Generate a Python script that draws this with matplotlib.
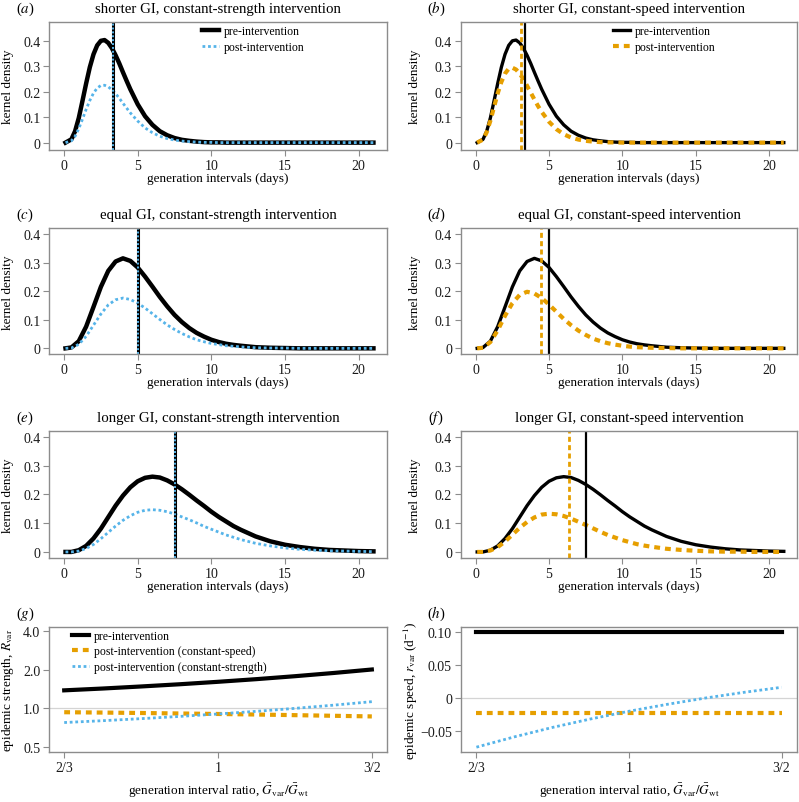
import matplotlib
matplotlib.use('Agg')
import matplotlib.pyplot as plt

# ---------------- data ----------------
# generation intervals (days), finer grid for the short-GI panels
gi_days_short = [0.1, 0.5, 0.75, 1, 1.25, 1.5, 1.75, 2, 2.25, 2.5, 2.75, 3, 3.25, 3.5, 3.75, 4, 4.25, 4.5,
                 5, 5.5, 6, 6.5, 7, 7.5, 8, 8.5, 9, 9.5, 10, 10.5, 11, 11.5, 12,
                 13, 14, 15, 16, 17, 18, 19, 20, 21]
gi_days = [0.1, 0.5, 1, 1.5, 2, 2.5, 3, 3.5, 4, 4.5, 5, 5.5, 6, 6.5, 7, 7.5, 8, 8.5, 9, 9.5, 10,
           10.5, 11, 11.5, 12, 13, 14, 15, 16, 17, 18, 19, 20, 21]

# shorter GI (a, b)
short_pre = [0, 0.013, 0.045, 0.097, 0.164, 0.233, 0.297, 0.348, 0.383, 0.401, 0.404, 0.393, 0.372, 0.344,
             0.312, 0.277, 0.243, 0.210,
             0.151, 0.104, 0.070, 0.045, 0.029, 0.018, 0.011, 0.007, 0.004, 0.002, 0.001, 0.001, 0, 0, 0,
             0, 0, 0, 0, 0, 0, 0, 0, 0]
short_strength = [0, 0.007, 0.025, 0.055, 0.092, 0.131, 0.166, 0.195, 0.215, 0.225, 0.226, 0.220, 0.208, 0.193,
                  0.175, 0.155, 0.136, 0.117,
                  0.085, 0.058, 0.039, 0.025, 0.016, 0.010, 0.006, 0.004, 0.002, 0.001, 0.001, 0, 0, 0, 0,
                  0, 0, 0, 0, 0, 0, 0, 0, 0]
short_speed = [0, 0.012, 0.041, 0.086, 0.140, 0.194, 0.239, 0.272, 0.291, 0.295, 0.288, 0.272, 0.250, 0.224,
               0.197, 0.170, 0.144, 0.121,
               0.082, 0.053, 0.033, 0.020, 0.012, 0.007, 0.004, 0.002, 0.001, 0.001, 0, 0, 0, 0, 0,
               0, 0, 0, 0, 0, 0, 0, 0, 0]

# equal GI (c, d)
equal_pre = [0, 0.003, 0.025, 0.076, 0.145, 0.215, 0.271, 0.304, 0.315, 0.306, 0.283, 0.251, 0.216, 0.180,
             0.147, 0.117, 0.092, 0.071, 0.054, 0.041, 0.030, 0.022, 0.016, 0.012, 0.009,
             0.004, 0.002, 0.001, 0, 0, 0, 0, 0, 0]
equal_strength = [0, 0.001, 0.014, 0.042, 0.081, 0.120, 0.152, 0.170, 0.176, 0.171, 0.158, 0.141, 0.121, 0.101,
                  0.082, 0.066, 0.052, 0.040, 0.030, 0.023, 0.017, 0.013, 0.009, 0.007, 0.005,
                  0.002, 0.001, 0.001, 0, 0, 0, 0, 0, 0]
equal_speed = [0, 0.002, 0.022, 0.063, 0.114, 0.158, 0.187, 0.198, 0.192, 0.176, 0.153, 0.128, 0.103, 0.081,
               0.062, 0.047, 0.034, 0.025, 0.018, 0.013, 0.009, 0.006, 0.004, 0.003, 0.002,
               0.001, 0, 0, 0, 0, 0, 0, 0, 0]

# longer GI (e, f)
long_pre = [0, 0, 0.006, 0.021, 0.047, 0.081, 0.121, 0.161, 0.196, 0.225, 0.246, 0.258, 0.262, 0.259,
            0.249, 0.235, 0.218, 0.199, 0.179, 0.160, 0.140, 0.122, 0.106, 0.090, 0.077,
            0.054, 0.037, 0.025, 0.017, 0.011, 0.007, 0.005, 0.003, 0.002]
long_strength = [0, 0, 0.003, 0.012, 0.026, 0.046, 0.068, 0.090, 0.110, 0.126, 0.138, 0.145, 0.147, 0.145,
                 0.140, 0.132, 0.122, 0.112, 0.101, 0.089, 0.079, 0.069, 0.059, 0.051, 0.043,
                 0.030, 0.021, 0.014, 0.009, 0.006, 0.004, 0.003, 0.002, 0.001]
long_speed = [0, 0, 0.005, 0.017, 0.036, 0.060, 0.084, 0.104, 0.120, 0.130, 0.133, 0.131, 0.125, 0.116,
              0.105, 0.094, 0.082, 0.070, 0.059, 0.050, 0.041, 0.034, 0.027, 0.022, 0.018,
              0.011, 0.007, 0.004, 0.002, 0.001, 0.001, 0, 0, 0]

# mean generation intervals (vertical lines): pre / post constant-speed
mean_pre = [3.333, 5.0, 7.5]
mean_speed = [3.081, 4.452, 6.332]

# bottom row: generation interval ratio
gi_ratio = [0.6667, 0.7378, 0.8165, 0.9036, 1.0, 1.1067, 1.2247, 1.3554, 1.5]
R_pre = [1.381, 1.427, 1.481, 1.541, 1.611, 1.690, 1.782, 1.888, 2.011]
R_speed = [0.931, 0.925, 0.918, 0.910, 0.902, 0.893, 0.883, 0.873, 0.863]
R_strength = [0.773, 0.799, 0.829, 0.863, 0.902, 0.946, 0.998, 1.057, 1.126]
r_pre = [0.1, 0.1, 0.1, 0.1, 0.1, 0.1, 0.1, 0.1, 0.1]
r_speed = [-0.023, -0.023, -0.023, -0.023, -0.023, -0.023, -0.023, -0.023, -0.023]
r_strength = [-0.0752, -0.0594, -0.0450, -0.0321, -0.0204, -0.0099, -0.0003, 0.0083, 0.0161]

kernel_ticks = [0, 0.1, 0.2, 0.3, 0.4]
kernel_ticklabels = ['0', '0.1', '0.2', '0.3', '0.4']
day_ticks = [0, 5, 10, 15, 20]
ratio_ticks = [2 / 3, 1, 3 / 2]
ratio_ticklabels = ['2/3', '1', '3/2']
R_ticks = [0.5, 1, 2, 4]
R_ticklabels = ['0.5', '1.0', '2.0', '4.0']
r_ticks = [-0.05, 0, 0.05, 0.10]
r_ticklabels = ['\u22120.05', '0', '0.05', '0.10']

titles = ['shorter GI, constant-strength intervention', 'shorter GI, constant-speed intervention',
          'equal GI, constant-strength intervention', 'equal GI, constant-speed intervention',
          'longer GI, constant-strength intervention', 'longer GI, constant-speed intervention']
panel_tags = ['($a$)', '($b$)', '($c$)', '($d$)', '($e$)', '($f$)', '($g$)', '($h$)']

# ---------------- style ----------------
plt.rcParams['font.family'] = 'serif'
plt.rcParams['font.serif'] = ['Liberation Serif', 'DejaVu Serif']
plt.rcParams['mathtext.fontset'] = 'stix'
plt.rcParams['axes.unicode_minus'] = True

BLUE = '#56B4E9'
ORANGE = '#E69F00'
GREY = '#8c8c8c'
DOTS = (0, (1, 1))
DASH = (0, (1.4, 1.2))

fig = plt.figure(figsize=(7.99, 8.03), dpi=100)

col_left = [0.0617, 0.577]
col_w = [0.4223, 0.4205]
rows = [(0.8123, 0.1587), (0.5575, 0.1569), (0.3039, 0.1578), (0.0619, 0.1564)]


def style_axes(ax, col):
    for sp in ax.spines.values():
        sp.set_edgecolor(GREY)
        sp.set_linewidth(1.0)
    ax.tick_params(colors=GREY, labelcolor='#1a1a1a', length=4, width=0.8, labelsize=10, pad=2.5)
    ax.minorticks_off()
    ax.yaxis.set_label_coords(-0.106 if col == 0 else -0.119, 0.5)


kernel_sets = [(gi_days_short, short_pre, short_strength, short_speed),
               (gi_days, equal_pre, equal_strength, equal_speed),
               (gi_days, long_pre, long_strength, long_speed)]

####################################  kernel panels (a)-(f)  ####################################
for i in range(3):
    days, pre, strength, speed = kernel_sets[i]
    for j in range(2):
        ax = fig.add_axes([col_left[j], rows[i][0], col_w[j], rows[i][1]])
        if j == 0:
            ax.plot(days, pre, color='k', lw=3.2, label='pre-intervention')
            ax.plot(days, strength, color=BLUE, lw=2.0, ls=DOTS, label='post-intervention')
            ax.axvline(mean_pre[i], color='k', lw=2.2)
            ax.axvline(mean_pre[i], color=BLUE, lw=1.4, ls=DOTS)
        else:
            ax.plot(days, pre, color='k', lw=2.4, label='pre-intervention')
            ax.plot(days, speed, color=ORANGE, lw=3.0, ls=DASH, label='post-intervention')
            ax.axvline(mean_speed[i], color=ORANGE, lw=2.0, ls=(0, (1.8, 1.2)))
            ax.axvline(mean_pre[i], color='k', lw=1.6)
        ax.set_xlim(-1.0, 21.9)
        if i == 0:
            ax.set_ylim(-0.028, 0.474)
        else:
            ax.set_ylim(-0.021, 0.42)
        ax.set_xticks(day_ticks)
        ax.set_yticks(kernel_ticks)
        ax.set_yticklabels(kernel_ticklabels)
        style_axes(ax, j)
        ax.set_ylabel('kernel density', fontsize=9.5)
        ax.set_xlabel('generation intervals (days)', fontsize=9.5)
        ax.xaxis.set_label_coords(0.5, -0.175)
        ax.xaxis.label.set_va('top')
        ax.set_title(titles[2 * i + j], fontsize=10.7, pad=7.5)
        ax.text(-0.072 if j == 0 else -0.074, 1.081, panel_tags[2 * i + j], transform=ax.transAxes,
                ha='center', va='baseline', fontsize=10.7)
        if i == 0:
            ax.legend(loc='upper left', bbox_to_anchor=(0.4526, 0.975), frameon=False, fontsize=8.5,
                      handlelength=1.4, handletextpad=0.45, labelspacing=0.3, borderpad=0, borderaxespad=0)

####################################  (g) epidemic strength  ####################################
ax = fig.add_axes([col_left[0], rows[3][0], col_w[0], rows[3][1]])
ax.axhline(1, color='#d4d4d4', lw=0.9)
ax.plot(gi_ratio, R_pre, color='k', lw=3.0, label='pre-intervention')
ax.plot(gi_ratio, R_speed, color=ORANGE, lw=3.0, ls=DASH, label='post-intervention (constant-speed)')
ax.plot(gi_ratio, R_strength, color=BLUE, lw=2.0, ls=DOTS, label='post-intervention (constant-strength)')
ax.set_xscale('log')
ax.set_yscale('log')
ax.set_xlim(0.641, 1.56)
ax.set_ylim(0.452, 4.35)
ax.set_xticks(ratio_ticks)
ax.set_xticklabels(ratio_ticklabels)
ax.set_yticks(R_ticks)
ax.set_yticklabels(R_ticklabels)
style_axes(ax, 0)
ax.yaxis.set_label_coords(-0.098, 0.5)
ax.set_ylabel('epidemic strength, $R_{\\mathrm{var}}$', fontsize=9.5)
ax.set_xlabel('generation interval ratio, $\\bar{G}_{\\mathrm{var}}/\\bar{G}_{\\mathrm{wt}}$', fontsize=9.5)
ax.xaxis.set_label_coords(0.5, -0.225)
ax.xaxis.label.set_va('top')
ax.text(-0.072, 1.081, panel_tags[6], transform=ax.transAxes, ha='center', va='baseline', fontsize=10.7)
ax.legend(loc='upper left', bbox_to_anchor=(0.0675, 0.975), frameon=False, fontsize=8.5,
          handlelength=1.4, handletextpad=0.45, labelspacing=0.3, borderpad=0, borderaxespad=0)

####################################  (h) epidemic speed  ####################################
ax = fig.add_axes([col_left[1], rows[3][0], col_w[1], rows[3][1]])
ax.axhline(0, color='#d4d4d4', lw=0.9)
ax.plot(gi_ratio, r_pre, color='k', lw=3.0)
ax.plot(gi_ratio, r_speed, color=ORANGE, lw=3.0, ls=DASH)
ax.plot(gi_ratio, r_strength, color=BLUE, lw=2.0, ls=DOTS)
ax.set_xscale('log')
ax.set_xlim(0.64, 1.563)
ax.set_ylim(-0.083, 0.1085)
ax.set_xticks(ratio_ticks)
ax.set_xticklabels(ratio_ticklabels)
ax.set_yticks(r_ticks)
ax.set_yticklabels(r_ticklabels)
style_axes(ax, 1)
ax.yaxis.set_label_coords(-0.122, 0.5)
ax.set_ylabel('epidemic speed, $r_{\\mathrm{var}}$ (d$^{-1}$)', fontsize=9.5)
ax.set_xlabel('generation interval ratio, $\\bar{G}_{\\mathrm{var}}/\\bar{G}_{\\mathrm{wt}}$', fontsize=9.5)
ax.xaxis.set_label_coords(0.5, -0.225)
ax.xaxis.label.set_va('top')
ax.text(-0.074, 1.081, panel_tags[7], transform=ax.transAxes, ha='center', va='baseline', fontsize=10.7)

fig.savefig('out.png', dpi=100)
